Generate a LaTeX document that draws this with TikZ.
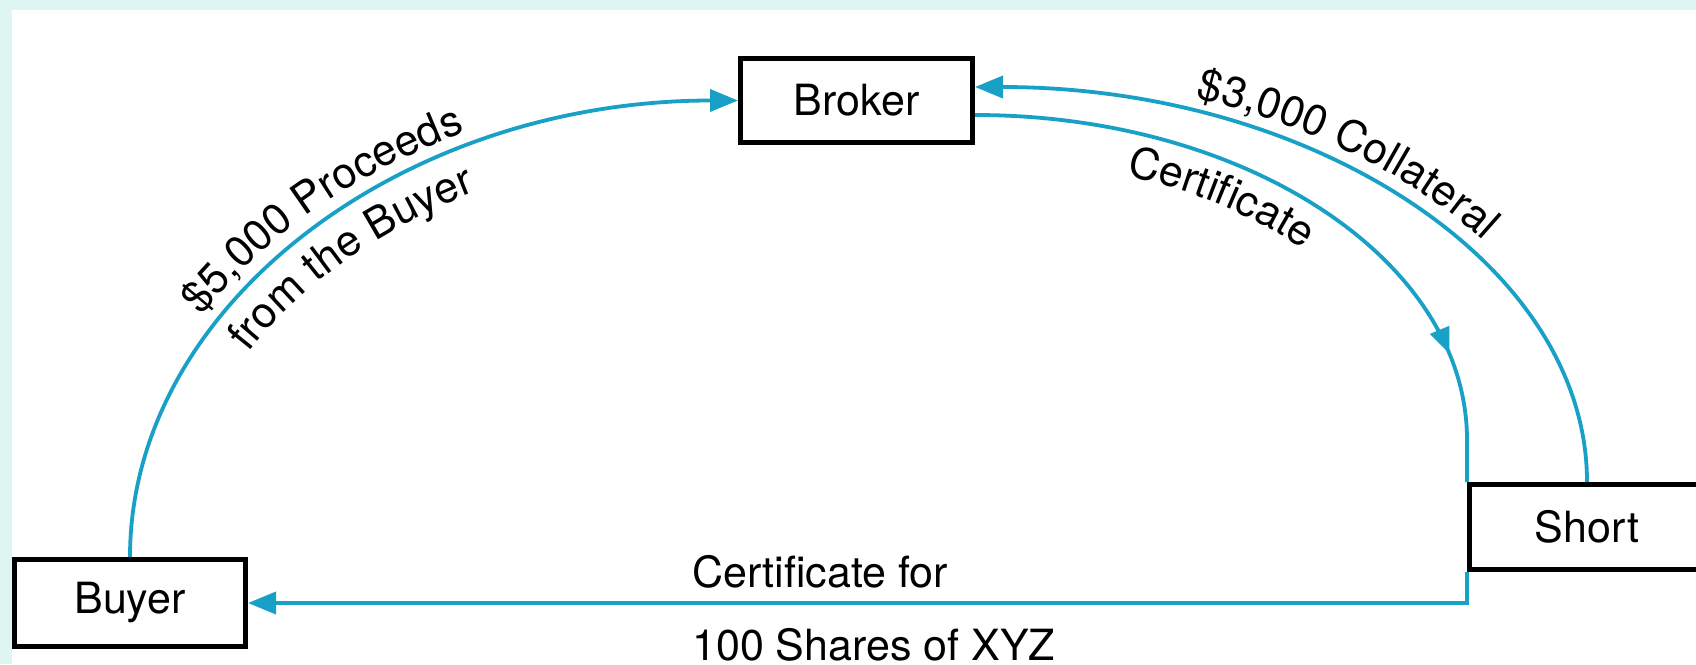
\documentclass[tikz,border=0pt]{standalone}
\usepackage{fontspec}
\setmainfont{TeX Gyre Heros}
\usetikzlibrary{arrows.meta,calc,decorations.text,decorations.markings}
\definecolor{flow}{RGB}{25,160,198}
\definecolor{band}{RGB}{222,245,242}
\newcommand\lblfont{\fontsize{43}{52}\selectfont}

\begin{document}
\begin{tikzpicture}[x=1pt,y=-1pt,
  party/.style={draw=black, line width=5pt, fill=white, inner sep=0pt, font=\lblfont},
  flowline/.style={draw=flow, line width=3.8pt},
  tip/.style={-{Triangle[length=28pt,width=22pt]}},
  plainlabel/.style={inner sep=0pt, font=\lblfont}
]
\useasboundingbox (0,0) rectangle (1696,664);
\fill[band] (0,0) rectangle (1696,664);
\fill[white] (12,10) rectangle (1696,664);

% parties
\node[party, minimum width=232pt, minimum height=84pt] (broker) at (856.5,100.5) {Broker};
\node[party, minimum width=231pt, minimum height=87pt] (buyer) at (130,603) {Buyer};
\node[party, minimum width=235pt, minimum height=85pt] (short) at (1587,527) {Short};

% proceeds: buyer -> broker
\draw[flowline, tip] (buyer.north) .. controls +(0,-252) and +(-335.6,0) .. (broker.west);
% collateral: short -> broker
\draw[flowline, tip] (short.north) .. controls +(0,-218) and +(338,0) .. ($(broker.east)+(0,-13.5)$);
% certificate: broker -> short
\draw[flowline, postaction={decorate, decoration={markings,
    mark=at position 560pt with {\arrow{Triangle[length=26pt,width=20pt]}}}}]
  ($(broker.east)+(0,14.5)$) .. controls +(271.6,0) and +(0,-179.4) .. ($(short.north west)+(0,-42)$) -- (short.north west);
% certificate: short -> buyer
\draw[flowline, tip] (short.south west) |- (buyer.east);

% curved labels
\path[decorate, decoration={text along path, text align=center, post length=17pt,
    text={|\lblfont|{\$}5,000 Proceeds}}]
  ($(buyer.north)+(-16,0)$) .. controls +(0,-260.8) and +(-344.4,0) .. ($(broker.west)+(0,-16)$);
\path[decorate, decoration={text along path, text align=center, post length=46pt,
    text={|\lblfont|from the Buyer}}]
  ($(buyer.north)+(44,0)$) .. controls +(0,-227.7) and +(-311.3,0) .. ($(broker.west)+(0,44)$);
\path[decorate, decoration={text along path, text align=center, post length=54pt,
    text={|\lblfont|{\$}3,000 Collateral}}]
  ($(broker.east)+(0,-29.5)$) .. controls +(346.7,0) and +(0,-226.9) .. ($(short.north)+(16,0)$);
\path[decorate, decoration={text along path, text align=center, post length=82pt,
    text={|\lblfont|Certificate}}]
  ($(broker.east)+(0,58.5)$) .. controls +(247.8,0) and +(0,-155.1) .. ($(short.north west)+(-44,-42)$);

% straight labels
\node[plainlabel, anchor=base west] (certfor) at (692,587) {Certificate for};
\node[plainlabel, anchor=base west] (shares) at (692,660) {100 Shares of XYZ};
\end{tikzpicture}
\end{document}
